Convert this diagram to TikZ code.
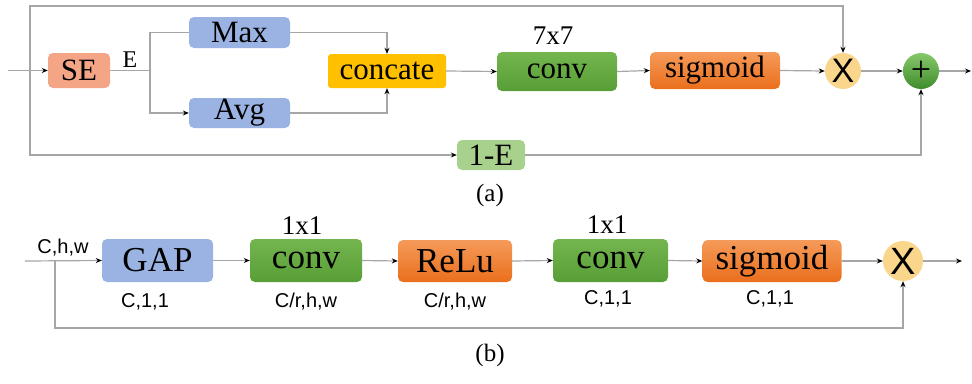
\documentclass[tikz,border=0pt]{standalone}
\usepackage{fontspec}
\setmainfont{Liberation Serif}
\newfontfamily\sansf{Liberation Sans}
\usetikzlibrary{arrows.meta}
\definecolor{lnc}{HTML}{A6A6A6}
\definecolor{sec}{HTML}{F4A586}
\definecolor{seb}{HTML}{EE9070}
\definecolor{bluec}{HTML}{9AB3E2}
\definecolor{blueb}{HTML}{7F9BD3}
\definecolor{yelc}{HTML}{FFC000}
\definecolor{grnt}{HTML}{74B54E}
\definecolor{grnb}{HTML}{589E36}
\definecolor{orgt}{HTML}{F59A5A}
\definecolor{orgb}{HTML}{EA6F1C}
\definecolor{lgrn}{HTML}{A9D18E}
\definecolor{xcol}{HTML}{FAD68C}
\definecolor{pgt}{HTML}{86C86A}
\definecolor{pgb}{HTML}{3F8C2C}
\tikzset{
  x=1pt,y=-1pt,
  bx/.style={rectangle,rounded corners=5pt,inner sep=0pt,draw=none},
  fa/.style={font=\fontsize{31}{31}\selectfont},
  fb/.style={font=\fontsize{35}{35}\selectfont},
  dimlbl/.style={font=\sansf\fontsize{20}{20}\selectfont,inner sep=0pt},
  ln/.style={draw=lnc,line width=1.2pt},
  arr/.style={ln,-{Stealth[length=6pt,width=5pt,black]}},
  bluebox/.style={bx,fill=bluec},
  orgbox/.style={bx,top color=orgt,bottom color=orgb},
  grnbox/.style={bx,top color=grnt,bottom color=grnb},
  xcirc/.style={circle,fill=xcol,inner sep=0pt,font=\sansf\fontsize{34}{34}\selectfont},
}
\begin{document}
\begin{tikzpicture}
\useasboundingbox (0,0) rectangle (972,383);
% ---------- (a) ----------
\node[bx,fill=sec,minimum width=62pt,minimum height=35pt,fa] (SE) at (79,70.5) {SE};
\node[bluebox,minimum width=101pt,minimum height=31pt,fa] (Max) at (239.5,32.5) {Max};
\node[bluebox,minimum width=101pt,minimum height=30pt,fa] (Avg) at (239.5,113) {Avg};
\node[bx,fill=yelc,rounded corners=3pt,minimum width=118pt,minimum height=34pt,fa] (cat) at (387,71) {concate};
\node[grnbox,minimum width=120pt,minimum height=39pt,fa] (conva) at (557,71.5) {conv};
\node[orgbox,minimum width=130pt,minimum height=37pt,fa] (sigma) at (715,70.5) {sigmoid};
\node[xcirc,minimum size=36pt] (Xa) at (843,71) {X};
\node[circle,top color=pgt,bottom color=pgb,inner sep=0pt,minimum size=36pt,font=\fontsize{36}{36}\selectfont] (Pa) at (921,71) {+};
\node[bx,fill=lgrn,minimum width=68pt,minimum height=30pt,fa] (oneE) at (491,155) {1-E};
\node[font=\fontsize{27}{27}\selectfont,inner sep=0pt] (k7) at (553,36) {7x7};
\node[font=\fontsize{24}{24}\selectfont,inner sep=0pt] (Elbl) at (130,60) {E};
\node[font=\fontsize{25}{25}\selectfont,inner sep=0pt] (capa) at (490,195) {(a)};
\coordinate (ina) at (8,70.5);
\coordinate (bra) at (30,70.5);
\coordinate (tla) at (30,6);
\coordinate (eb) at (150,70.5);
\coordinate (outa) at (971,71);
\draw[arr] (ina) -- (SE.west);
\draw[arr] (bra) -- (tla) -| (Xa.north);
\draw[arr] (bra) |- (oneE.west);
\draw[arr] (oneE.east) -| (Pa.south);
\draw[ln] (SE.east) -- (eb);
\draw[ln] (eb) |- (Max.west);
\draw[arr] (eb) |- (Avg.west);
\draw[arr] (Max.east) -| (cat.north);
\draw[arr] (Avg.east) -| (cat.south);
\draw[arr] (cat.east) -- (conva.west);
\draw[arr] (conva.east) -- (sigma.west);
\draw[arr] (sigma.east) -- (Xa.west);
\draw[arr] (Xa.east) -- (Pa.west);
\draw[arr] (Pa.east) -- (outa);
% ---------- (b) ----------
\node[bluebox,minimum width=111pt,minimum height=43pt,fb] (GAP) at (157.5,260.5) {GAP};
\node[grnbox,minimum width=112pt,minimum height=43pt,fb] (convb1) at (306,260.5) {conv};
\node[orgbox,minimum width=114pt,minimum height=42pt,fb] (relu) at (455,261) {ReLu};
\node[grnbox,minimum width=115pt,minimum height=43pt,fb] (convb2) at (610.5,260.5) {conv};
\node[orgbox,minimum width=139pt,minimum height=42pt,fb] (sigmb) at (772,261) {sigmoid};
\node[xcirc,minimum size=40pt,font=\sansf\fontsize{38}{38}\selectfont] (Xb) at (903,261) {X};
\node[font=\fontsize{27}{27}\selectfont,inner sep=0pt] (k1a) at (302,226) {1x1};
\node[font=\fontsize{27}{27}\selectfont,inner sep=0pt] (k1b) at (607,225) {1x1};
\node[dimlbl] (dchw) at (63,248) {C,h,w};
\node[dimlbl] (d1) at (145,302) {C,1,1};
\node[dimlbl] (d2) at (306,302) {C/r,h,w};
\node[dimlbl] (d3) at (455,302) {C/r,h,w};
\node[dimlbl] (d4) at (608,299) {C,1,1};
\node[dimlbl] (d5) at (770,299) {C,1,1};
\node[font=\fontsize{25}{25}\selectfont,inner sep=0pt] (capb) at (490,355) {(b)};
\coordinate (inb) at (25,261);
\coordinate (brb) at (55,261);
\coordinate (blb) at (55,328);
\coordinate (outb) at (962,261);
\draw[arr] (inb) -- (GAP.west);
\draw[arr] (brb) -- (blb) -| (Xb.south);
\draw[arr] (GAP.east) -- (convb1.west);
\draw[arr] (convb1.east) -- (relu.west);
\draw[arr] (relu.east) -- (convb2.west);
\draw[arr] (convb2.east) -- (sigmb.west);
\draw[arr] (sigmb.east) -- (Xb.west);
\draw[arr] (Xb.east) -- (outb);
\end{tikzpicture}
\end{document}
